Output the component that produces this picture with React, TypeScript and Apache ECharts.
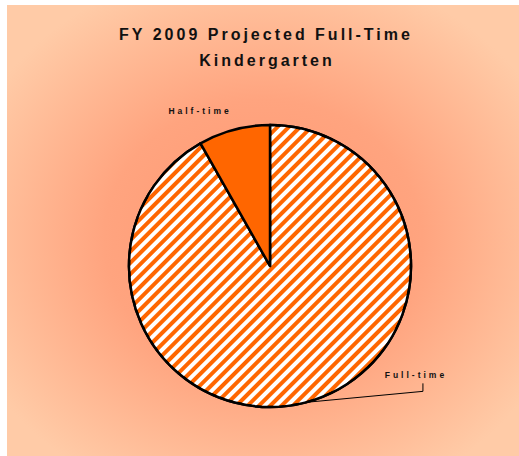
import React, { useEffect, useRef } from "react";
import * as echarts from "echarts";

const titleLines = ["FY 2009 Projected Full-Time", "Kindergarten"];
const categories = ["Full-time", "Half-time"];
const values = [91.8, 8.2];

export default function App() {
  const ref = useRef<HTMLDivElement>(null);
  useEffect(() => {
    if (!ref.current) return;
    const chart = echarts.init(ref.current, undefined, { renderer: "svg" });
    const titleFont = 'bold 16px "Liberation Sans", Arial, sans-serif';
    chart.setOption({
      animation: false,
      graphic: [
        {
          type: "rect",
          z: -10,
          silent: true,
          shape: { x: 7, y: 5, width: 512, height: 451 },
          style: {
            fill: {
              type: "radial",
              x: 0.5,
              y: 0.52,
              r: 0.62,
              colorStops: [
                { offset: 0, color: "#FF9670" },
                { offset: 0.5, color: "#FFA47F" },
                { offset: 1, color: "#FFCBA7" },
              ],
            },
          },
        },
        {
          type: "text",
          x: 266,
          y: 34,
          z: 10,
          style: {
            text: titleLines[0],
            font: titleFont,
            fill: "#111",
            align: "center",
            verticalAlign: "middle",
          },
        },
        {
          type: "text",
          x: 267,
          y: 60,
          z: 10,
          style: {
            text: titleLines[1],
            font: titleFont,
            fill: "#111",
            align: "center",
            verticalAlign: "middle",
          },
        },
      ],
      series: [
        {
          type: "pie",
          center: [270, 266],
          radius: 141,
          startAngle: 90,
          clockwise: true,
          avoidLabelOverlap: false,
          itemStyle: { borderColor: "#000", borderWidth: 2.5, color: "#FF6600" },
          label: {
            show: true,
            position: "outside",
            fontFamily: '"Liberation Sans", Arial, sans-serif',
            fontWeight: "bold",
            fontSize: 8.5,
            color: "#111",
          },
          labelLine: {
            show: true,
            length: 3,
            length2: 20,
            lineStyle: { color: "#000", width: 1 },
          },
          labelLayout: (params: any) => {
            const pts = params.labelLinePoints;
            if (!pts) return {};
            const p0 = pts[0];
            if (params.dataIndex === 0) {
              const end = [p0[0] + 117, p0[1] - 11];
              return {
                x: end[0] - 7,
                y: end[1] - 16,
                align: "center",
                verticalAlign: "middle",
                labelLinePoints: [p0, end, [end[0], end[1] - 8]],
              };
            }
            return {
              x: p0[0] - 34,
              y: p0[1] - 19,
              align: "center",
              verticalAlign: "middle",
            };
          },
          data: [
            {
              name: categories[0],
              value: values[0],
              itemStyle: {
                color: "#FF6600",
                decal: {
                  symbol: "rect",
                  symbolSize: 1,
                  color: "#FFFFFF",
                  dashArrayX: [1, 0],
                  dashArrayY: [4, 4],
                  rotation: -Math.PI / 4,
                },
              },
            },
            {
              name: categories[1],
              value: values[1],
              labelLine: { show: false },
            },
          ],
        },
      ],
    });
    return () => chart.dispose();
  }, []);
  return (
    <div
      ref={ref}
      style={{
        position: "absolute",
        left: 0,
        top: 0,
        width: 519,
        height: 456,
        letterSpacing: "3px",
      }}
    />
  );
}
